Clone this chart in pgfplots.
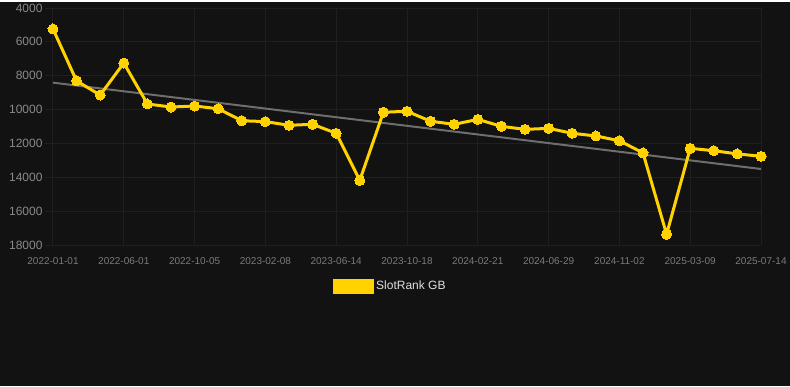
\documentclass[border=0pt]{standalone}
\usepackage{pgfplots}
\pgfplotsset{compat=1.18}
\usepackage{fontspec}
\setmainfont{Liberation Sans}
\definecolor{bgc}{HTML}{121212}
\definecolor{gridc}{HTML}{1F1F1F}
\definecolor{gold}{RGB}{255,210,0}
\definecolor{trendc}{HTML}{6E6E6E}
\definecolor{ylab}{HTML}{8A8A8A}
\definecolor{xlab}{HTML}{7A7A7A}
\definecolor{legtext}{HTML}{E0E0E0}
\begin{document}
\begin{tikzpicture}
\fill[bgc] (0,0) rectangle (790pt,384pt);
\begin{axis}[
  at={(53pt,141pt)}, anchor=south west,
  scale only axis, width=708pt, height=237pt,
  xmin=0, xmax=30, ymin=4000, ymax=18000,
  y dir=reverse,
  axis line style={draw=none},
  xtick style={draw=none},
  ytick style={draw=gridc, line width=1pt},
  ytick pos=left,
  tick align=outside,
  major tick length=8pt,
  grid=major,
  major grid style={color=gridc, line width=1pt},
  ytick={4000,6000,8000,10000,12000,14000,16000,18000},
  xtick={0,3,6,9,12,15,18,21,24,27,30},
  xticklabels={2022-01-01,2022-06-01,2022-10-05,2023-02-08,2023-06-14,2023-10-18,2024-02-21,2024-06-29,2024-11-02,2025-03-09,2025-07-14},
  /pgf/number format/assume math mode=true,
  scaled y ticks=false,
  yticklabel style={font=\fontsize{12}{14}\selectfont, text=ylab, xshift=1pt},
  xticklabel style={font=\fontsize{10}{12}\selectfont, text=xlab, yshift=-1pt},
  y tick label style={/pgf/number format/.cd, 1000 sep={}},
  legend style={at={(0.3955,-0.173)}, anchor=west, draw=none, fill=none,
    text=legtext, font=\fontsize{12}{14}\selectfont, inner sep=0pt},
  legend image code/.code={\fill[gold] (0pt,-6pt) rectangle (38pt,6pt);},
  clip=false,
]
\addplot[trendc, line width=2pt, forget plot] coordinates {(0,8410) (30,13510)};
\addplot[gold, line width=3pt, mark=*, mark size=5pt, mark options={fill=gold, draw=gold, line width=0pt}] coordinates {
(0,5240) (1,8310) (2,9140) (3,7250) (4,9670) (5,9850) (6,9790) (7,9950)
(8,10660) (9,10710) (10,10930) (11,10870) (12,11400) (13,14180) (14,10160)
(15,10100) (16,10690) (17,10870) (18,10580) (19,10990) (20,11170) (21,11110)
(22,11400) (23,11560) (24,11840) (25,12560) (26,17370) (27,12290) (28,12430)
(29,12620) (30,12760)};
\addlegendentry{SlotRank GB}
\end{axis}
\end{tikzpicture}
\end{document}
